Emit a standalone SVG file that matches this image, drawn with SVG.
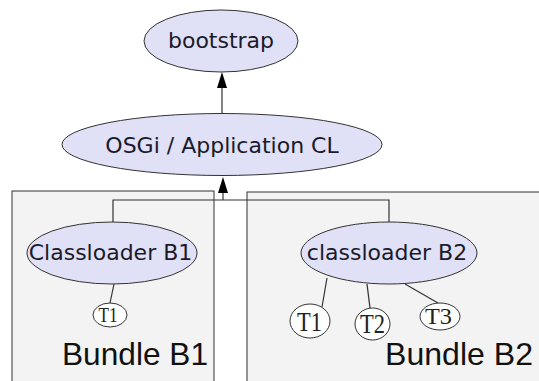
<svg xmlns="http://www.w3.org/2000/svg" width="539" height="381" viewBox="0 0 539 381">
  <style>
    .box { fill: #f3f3f3; stroke: #333; stroke-width: 1; }
    .cl { fill: #e0e0f6; stroke: #333; stroke-width: 1; }
    .t { fill: #ffffff; stroke: #333; stroke-width: 1; }
    .lbl { font-family: "DejaVu Sans", sans-serif; font-size: 22px; fill: #1a1a2a; text-anchor: middle; }
    .tl { font-family: "Liberation Serif", serif; fill: #222; text-anchor: middle; }
    .bl { font-family: "Liberation Sans", Arial, sans-serif; font-size: 32px; fill: #111; }
    .edge { fill: none; stroke: #333; stroke-width: 1.2; }
  </style>
  <rect width="539" height="381" fill="#ffffff"/>

  <g id="bundle-b1">
    <rect class="box" x="12" y="191" width="202" height="200"/>
    <text class="bl" x="62" y="365" textLength="146" lengthAdjust="spacingAndGlyphs">Bundle B1</text>
  </g>
  <g id="bundle-b2">
    <rect class="box" x="247" y="192" width="300" height="200"/>
    <text class="bl" x="385" y="365" textLength="148" lengthAdjust="spacingAndGlyphs">Bundle B2</text>
  </g>

  <g id="connectors">
    <path class="edge" d="M222,113 V88"/>
    <path d="M217,88 L222,72 L227,88 Z" fill="#000"/>
    <path class="edge" d="M223,200 V193"/>
    <path d="M218,193 L223,177 L228,193 Z" fill="#000"/>
    <path class="edge" d="M113,223 V200 H389 V223"/>
    <path class="edge" d="M114,284 L110,303"/>
    <path class="edge" d="M327,278 L322,307"/>
    <path class="edge" d="M367,284 L370,308"/>
    <path class="edge" d="M405,284 L438,303"/>
  </g>

  <g id="bootstrap">
    <ellipse class="cl" cx="221" cy="41" rx="77" ry="31"/>
    <text class="lbl" x="221" y="48">bootstrap</text>
  </g>
  <g id="osgi">
    <ellipse class="cl" cx="222" cy="144.5" rx="160" ry="31"/>
    <text class="lbl" x="222" y="153">OSGi / Application CL</text>
  </g>
  <g id="classloader-b1">
    <ellipse class="cl" cx="112" cy="253" rx="85" ry="31"/>
    <text class="lbl" x="110.5" y="260">Classloader B1</text>
  </g>
  <g id="classloader-b2">
    <ellipse class="cl" cx="389" cy="253" rx="88" ry="31"/>
    <text class="lbl" x="387" y="260">classloader B2</text>
  </g>

  <g id="b1-t1">
    <ellipse class="t" cx="110" cy="315" rx="17" ry="12"/>
    <text class="tl" x="108" y="322" font-size="20" textLength="19" lengthAdjust="spacingAndGlyphs">T1</text>
  </g>
  <g id="b2-t1">
    <ellipse class="t" cx="310" cy="321" rx="20" ry="17"/>
    <text class="tl" x="309.5" y="331" font-size="27" textLength="25" lengthAdjust="spacingAndGlyphs">T1</text>
  </g>
  <g id="b2-t2">
    <ellipse class="t" cx="372.5" cy="324" rx="17.5" ry="16"/>
    <text class="tl" x="372.5" y="333" font-size="27" textLength="25" lengthAdjust="spacingAndGlyphs">T2</text>
  </g>
  <g id="b2-t3">
    <ellipse class="t" cx="440" cy="316.5" rx="20" ry="13.5"/>
    <text class="tl" x="438.5" y="324" font-size="24" textLength="27" lengthAdjust="spacingAndGlyphs">T3</text>
  </g>
</svg>
